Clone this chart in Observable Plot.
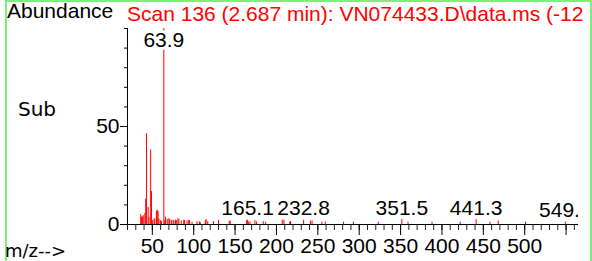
<!DOCTYPE html>
<html>
<head>
<meta charset="utf-8">
<script src="https://cdn.jsdelivr.net/npm/d3@7"></script>
<script src="https://cdn.jsdelivr.net/npm/@observablehq/plot@0.6"></script>
<style>
  html, body { margin: 0; padding: 0; background: #fff; }
  #wrap { position: relative; width: 592px; height: 261px; overflow: hidden; background: #fff; }
  #wrap svg { position: absolute; left: 0; top: 0; }
  .t { position: absolute; white-space: nowrap; line-height: 1; }
  #border { position: absolute; left: 5px; top: 0; width: 583px; height: 270px;
            border-left: 2px solid #7cf07c; border-top: 2px solid #7cf07c; border-right: 2px solid #7cf07c; }
</style>
</head>
<body>
<div id="wrap">
  <div id="border"></div>
</div>
<script>
// m/z values of the spectrum lines
const mz = [36, 37, 38, 39, 41, 42, 43, 45, 46, 48, 49, 50, 52, 53, 55, 56, 57, 58, 60, 61,
  63.9, 65, 66, 68, 70, 71, 73, 75, 76, 78, 79, 81, 82, 85, 88, 89, 92, 94, 95, 98,
  104, 107, 108, 114, 115, 117, 124, 130, 143, 144, 164, 165.1, 166, 168, 174, 176, 184, 187,
  207, 209, 216, 217, 232.8, 241, 243, 255, 259, 281, 293, 323, 351.5, 359, 388, 422,
  441.3, 458, 468, 501, 549.1];
// relative abundance (%)
const abundance = [5.0, 3.7, 3.9, 4.5, 5.6, 12.9, 46.3, 8.8, 3.7, 38.1, 16.8, 2.0, 2.5, 3.0, 6.8, 7.3, 6.5, 2.7, 2.0, 1.5,
  100, 2.0, 3.7, 2.7, 3.0, 2.5, 2.0, 2.2, 1.8, 2.2, 2.0, 3.0, 2.5, 1.8, 2.2, 2.0, 1.8, 2.2, 2.0, 1.2,
  1.5, 1.3, 1.0, 2.0, 2.5, 1.5, 1.5, 2.0, 1.6, 1.8, 2.0, 2.2, 1.3, 1.3, 2.0, 1.3, 1.5, 1.2,
  2.2, 2.2, 1.2, 1.5, 2.2, 1.8, 1.8, 1.2, 1.3, 1.2, 1.2, 1.2, 2.5, 1.2, 1.2, 1.2,
  2.5, 1.2, 1.8, 1.2, 1.2];
// labelled peaks
const peakMz = [63.9, 165.1, 232.8, 351.5, 441.3, 549.1];
const peakText = ["63.9", "165.1", "232.8", "351.5", "441.3", "549.1"];
// axis ticks
const xLabeledTicks = [50, 100, 150, 200, 250, 300, 350, 400, 450, 500];
const xMajorTicks = [...xLabeledTicks, 550];
const xMinorTicks = d3.range(20, 561, 10);
const yLabeledTicks = [0, 50];
const yMinorTicks = d3.range(0, 101, 10);
// texts
const titleText = "Scan 136 (2.687 min): VN074433.D\\data.ms (-12";
const yLabelText = "Abundance";
const subText = "Sub";
const xLabelText = "m/z-->";

const spectrum = mz.map((m, i) => ({mz: m, ab: abundance[i]}));
const peaks = peakMz.map((m, i) => ({mz: m, ab: abundance[mz.indexOf(m)], text: peakText[i]}));

const font = "'Liberation Sans', Arial, sans-serif";

const chart = Plot.plot({
  width: 592,
  height: 261,
  marginLeft: 127,
  marginRight: 14,
  marginTop: 28,
  marginBottom: 37,
  x: {domain: [20, 565]},
  y: {domain: [0, 100]},
  style: {fontFamily: font, fontSize: "21px", background: "transparent", color: "black"},
  marks: [
    Plot.ruleX(spectrum, {x: "mz", y1: 0, y2: "ab", stroke: "#ff0000", strokeWidth: 1}),
    Plot.text(peaks, {x: "mz", y: d => Math.min(d.ab, 88), text: "text", lineAnchor: "bottom", dy: -5,
      fontSize: 21, fill: "black", stroke: "white", strokeWidth: 6, clip: true}),
    Plot.ruleY([0], {stroke: "black"}),
    Plot.ruleX([20], {stroke: "black"}),
    Plot.axisX({ticks: xMinorTicks, tickSize: 6, tickFormat: () => "", label: null, stroke: "#222"}),
    Plot.axisX({ticks: xMajorTicks, tickSize: 11, tickPadding: 3,
      tickFormat: d => xLabeledTicks.includes(d) ? String(d) : "", label: null, fontSize: 21}),
    Plot.axisY({ticks: yMinorTicks, tickSize: 3, tickFormat: () => "", label: null}),
    Plot.axisY({ticks: yLabeledTicks, tickSize: 7, tickPadding: 1, label: null, fontSize: 21})
  ]
});

const wrap = document.getElementById("wrap");
wrap.insertBefore(chart, wrap.firstChild);

function addText(txt, left, top, size, family, color) {
  const s = document.createElement("span");
  s.className = "t";
  s.textContent = txt;
  s.style.left = left + "px";
  s.style.top = top + "px";
  s.style.fontSize = size + "px";
  s.style.fontFamily = family;
  s.style.color = color;
  wrap.appendChild(s);
}
addText(yLabelText, 7, 0, 21, font, "black");
addText(titleText, 127, 3, 21, font, "#ff0000");
addText(subText, 18, 99, 20, "'DejaVu Sans', sans-serif", "black");
addText(xLabelText, 5, 242, 18, "'DejaVu Sans', sans-serif", "black");
</script>
</body>
</html>
